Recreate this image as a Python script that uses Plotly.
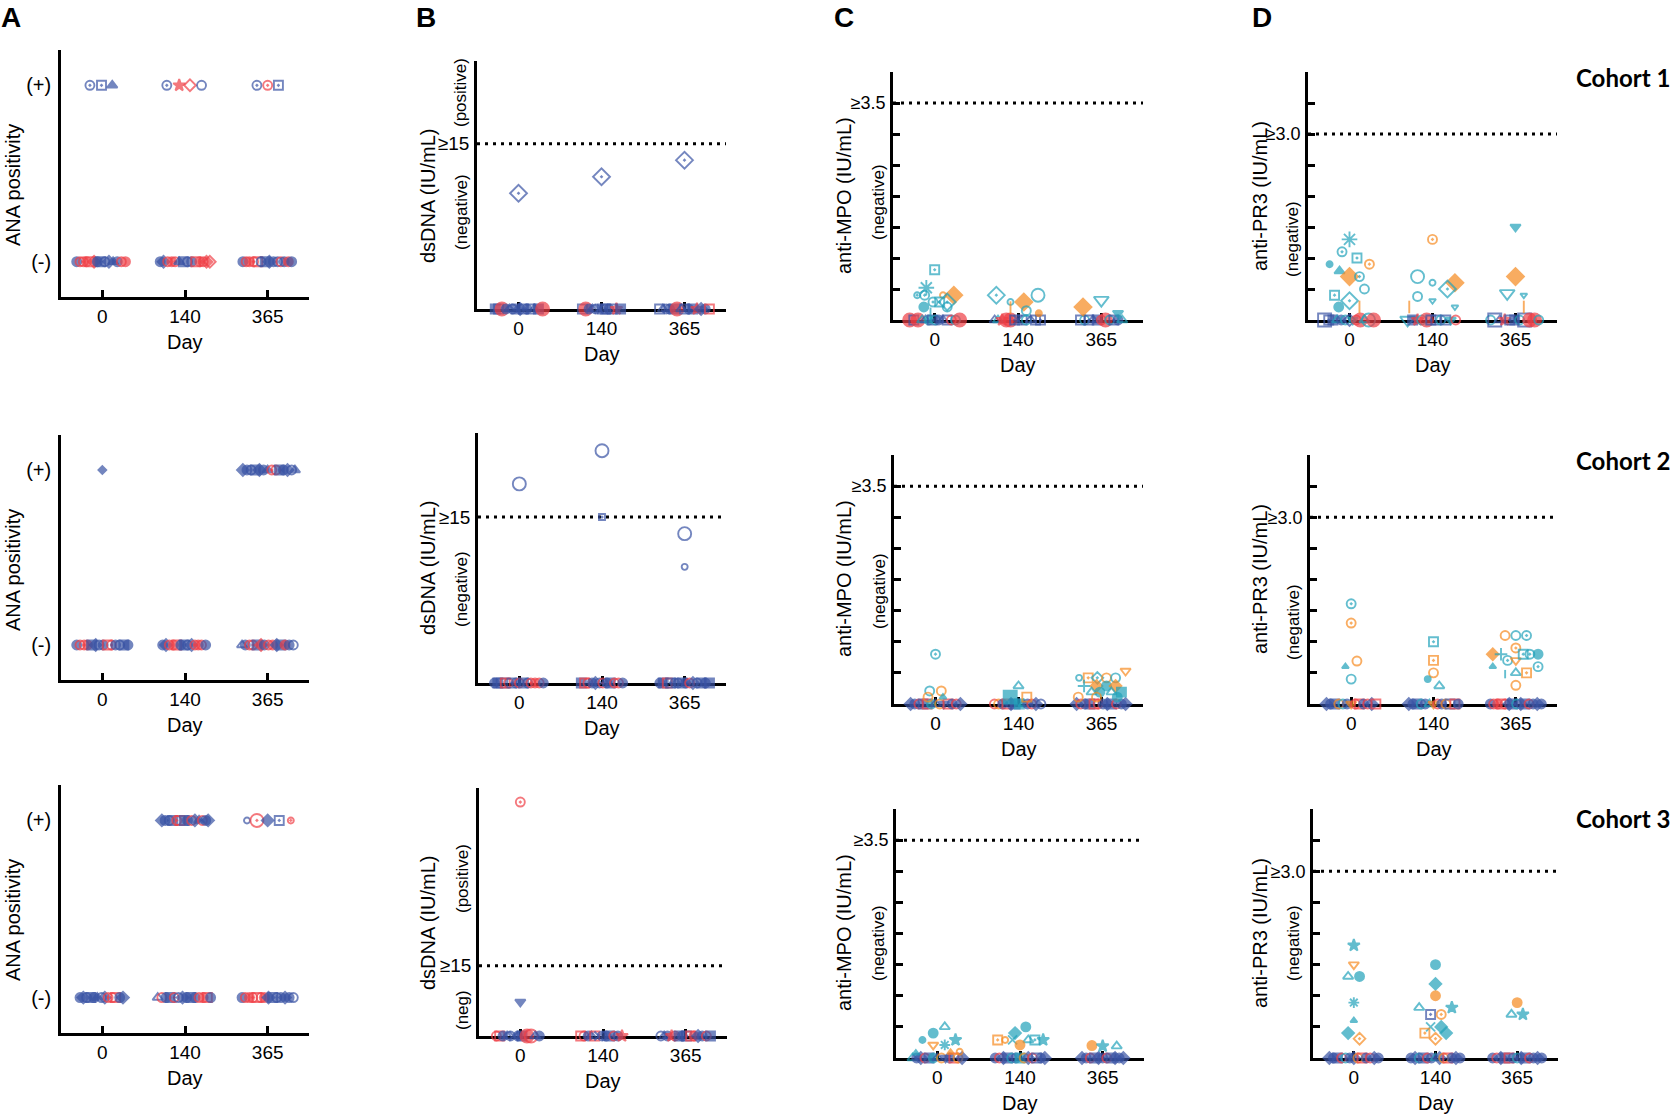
import plotly.graph_objects as go

DAYS = ["0", "140", "365"]

BLUE = "#3953a4"
RED = "#ef3f46"
TEAL = "#22a2ba"
ORANGE = "#f68a1f"
COLORS = {"b": BLUE, "r": RED, "t": TEAL, "o": ORANGE}

SYMBOLS = {
    "o": "circle", "O": "circle-open", "s": "square", "S": "square-open",
    "d": "diamond", "D": "diamond-open", "^": "triangle-up", "A": "triangle-up-open",
    "v": "triangle-down", "V": "triangle-down-open", "*": "star", "a": "asterisk-open",
    "x": "x-thin-open", "+": "cross-thin-open", "h": "circle-open-dot",
    "q": "square-open-dot", "k": "diamond-open-dot", "c": "circle-open-dot",
    "i": "line-ns-open",
}

# marker code: colour letter + symbol letter (+ "L" large / "m" small)
# bands: (day index, value, jitter list, marker codes)
# points: (day index, jitter, value, marker code)

# ---- A: ANA positivity, 0 = (-), 1 = (+)
A1_BANDS = [
    (0, 0, [-0.31, -0.27, -0.23, -0.19, -0.15, -0.1, -0.06, -0.02, 0.03, 0.08, 0.13, 0.18, 0.23, 0.28],
     "bo rO rh ro rS rd bo bs bO bd b^ bo rO ro"),
    (1, 0, [-0.3, -0.26, -0.21, -0.16, -0.12, -0.07, -0.02, 0.03, 0.08, 0.13, 0.18, 0.22, 0.26, 0.3],
     "bo bd rO ro rh b^ bs bO bo rS ro rO rd rD"),
    (2, 0, [-0.3, -0.26, -0.22, -0.17, -0.12, -0.08, -0.03, 0.02, 0.07, 0.12, 0.16, 0.2, 0.25, 0.29],
     "bo rO ro rh rS bO bs bd bo bO rO bo ro bo"),
]
A1_POINTS = [
    (0, -0.15, 1, "bh"), (0, -0.01, 1, "bq"), (0, 0.12, 1, "b^"),
    (1, -0.22, 1, "bh"), (1, -0.07, 1, "r*"), (1, 0.06, 1, "rD"), (1, 0.2, 1, "bO"),
    (2, -0.13, 1, "bh"), (2, 0.0, 1, "rh"), (2, 0.13, 1, "bq"),
]

A2_BANDS = [
    (2, 1, [-0.3, -0.25, -0.2, -0.15, -0.1, -0.05, 0.0, 0.05, 0.1, 0.14, 0.19, 0.24, 0.29, 0.33],
     "bd bo bO bs bd bo b^ rh rO bs bo bd bO b^"),
    (0, 0, [-0.31, -0.27, -0.22, -0.18, -0.13, -0.08, -0.04, 0.01, 0.06, 0.11, 0.16, 0.21, 0.26, 0.31],
     "bo rO rh ro bs bd bO bo rS rh bo bO bs bo"),
    (1, 0, [-0.27, -0.23, -0.19, -0.14, -0.1, -0.05, -0.01, 0.03, 0.08, 0.12, 0.16, 0.2, 0.25],
     "bo bd rO ro rS bo bs bO bd rh ro rO bo"),
    (2, 0, [-0.31, -0.27, -0.22, -0.18, -0.13, -0.08, -0.04, 0.01, 0.06, 0.11, 0.16, 0.21, 0.26, 0.31],
     "bA bo rO rh bs rd bo rO ro bd bs ro bo bO"),
]
A2_POINTS = [(0, 0.0, 1, "bdm")]

A3_BANDS = [
    (1, 1, [-0.28, -0.24, -0.19, -0.15, -0.1, -0.06, -0.01, 0.03, 0.08, 0.12, 0.17, 0.21, 0.25, 0.28],
     "bd bo bO bs rh rS bs bo rO bd b^ rO bo bd"),
    (0, 0, [-0.27, -0.23, -0.19, -0.14, -0.1, -0.06, -0.01, 0.03, 0.07, 0.12, 0.16, 0.21, 0.25],
     "bo bd bO bs bo b^ bO bd rh rO rS bo bd"),
    (1, 0, [-0.33, -0.28, -0.23, -0.18, -0.13, -0.08, -0.03, 0.02, 0.07, 0.12, 0.17, 0.22, 0.27, 0.31],
     "bA rO bo bs rh bO bd bo bs bo rO ro rS bo"),
    (2, 0, [-0.31, -0.27, -0.22, -0.18, -0.13, -0.08, -0.04, 0.01, 0.06, 0.11, 0.16, 0.21, 0.26, 0.31],
     "bo rO ro rh rS rO ro bd bs bO bo bd bo bO"),
]
A3_POINTS = [(2, -0.25, 1, "bOm"), (2, -0.13, 1, "rcL"), (2, 0.0, 1, "bd"), (2, 0.14, 1, "bq"), (2, 0.28, 1, "rhm")]

# ---- B: dsDNA (IU/mL)
B1_BANDS = [
    (0, 0, [-0.28, -0.24, -0.2, -0.15, -0.11, -0.07, -0.03, 0.02, 0.06, 0.1, 0.15, 0.19, 0.24, 0.29],
     "bs bS roL bo bA bO bs bd bq bo bS b^ bs roL"),
    (1, 0, [-0.23, -0.19, -0.15, -0.11, -0.07, -0.03, 0.01, 0.05, 0.09, 0.13, 0.18, 0.23],
     "bS roL bo bA bO bx bs bq bo bS r* bs"),
    (2, 0, [-0.3, -0.26, -0.22, -0.18, -0.13, -0.09, -0.04, 0.0, 0.05, 0.1, 0.15, 0.2, 0.25, 0.3],
     "bS bA bO bo bs roL bA bq bo bs r* bd bo rS"),
]
B1_POINTS = [(0, 0.0, 10.5, "bkL"), (1, 0.0, 12, "bkL"), (2, 0.0, 13.5, "bkL")]

B2_BANDS = [
    (0, 0, [-0.3, -0.26, -0.22, -0.17, -0.13, -0.09, -0.04, 0.0, 0.05, 0.1, 0.14, 0.19, 0.24, 0.29],
     "bo bs bS rS rO bq bo rO bs bO rh ro rO bo"),
    (1, 0, [-0.25, -0.21, -0.17, -0.12, -0.08, -0.03, 0.01, 0.06, 0.1, 0.15, 0.2, 0.25],
     "bs rS rO bo bd bO rh bo bs rO rO bo"),
    (2, 0, [-0.3, -0.26, -0.21, -0.17, -0.12, -0.08, -0.03, 0.01, 0.06, 0.1, 0.15, 0.2, 0.25, 0.3],
     "bo bs rS bq bo bO bs bo rh bd bO bs bo bs"),
]
B2_POINTS = [(0, 0.0, 18, "bOL"), (1, 0.0, 21, "bOL"), (1, 0.0, 15, "bqm"), (2, 0.0, 13.5, "bOL"), (2, 0.0, 10.5, "bOm")]

B3_BANDS = [
    (0, 0, [-0.29, -0.25, -0.21, -0.16, -0.12, -0.08, -0.03, 0.02, 0.08, 0.13, 0.18, 0.23],
     "rO rS bo bA bO bx bo bs roL rOL bA bo"),
    (1, 0, [-0.27, -0.23, -0.18, -0.14, -0.1, -0.05, -0.01, 0.04, 0.08, 0.13, 0.18, 0.23],
     "rS rO bo bA rS bx bO bo bs rh bo r*"),
    (2, 0, [-0.3, -0.26, -0.22, -0.17, -0.13, -0.08, -0.04, 0.01, 0.06, 0.1, 0.15, 0.2, 0.25, 0.3],
     "bO bA bo r* rO bs bo bq rS ro bd bo rO bs"),
]
B3_POINTS = [(0, 0.0, 50, "rh"), (0, 0.0, 7.3, "bv")]
B_TOPS = [22.5, 22.6, 53]

# ---- C: anti-MPO (IU/mL)
C1_BANDS = [
    (0, 0, [-0.3, -0.25, -0.2, -0.15, -0.11, -0.07, -0.03, 0.01, 0.05, 0.1, 0.15, 0.2, 0.25, 0.3],
     "roL bS roL tA bA to bq tO bo bA bS rO tO roL"),
    (1, 0, [-0.28, -0.24, -0.19, -0.14, -0.09, -0.04, 0.0, 0.05, 0.1, 0.15, 0.21, 0.27],
     "bA tA r* roL roL bq bx bS tO bA bS bq"),
    (2, 0, [-0.25, -0.2, -0.15, -0.1, -0.05, 0.0, 0.05, 0.1, 0.15, 0.2, 0.25],
     "bS tO bq bA bs rO roL tO bq bo tA"),
]
C1_POINTS = [
    (0, 0.0, 0.81, "tq"), (0, -0.1, 0.52, "taL"), (0, -0.21, 0.40, "thm"), (0, -0.12, 0.40, "th"),
    (0, 0.1, 0.40, "oOm"), (0, 0.23, 0.40, "odL"), (0, -0.02, 0.29, "th"), (0, 0.06, 0.29, "tq"),
    (0, 0.15, 0.29, "tkL"), (0, -0.13, 0.21, "to"), (0, 0.15, 0.21, "tO"), (0, -0.05, 0.10, "ti"),
    (1, -0.26, 0.40, "tkL"), (1, -0.09, 0.29, "tOm"), (1, -0.09, 0.20, "oi"), (1, 0.07, 0.29, "odL"),
    (1, 0.24, 0.40, "tOL"), (1, 0.1, 0.15, "tO"), (1, 0.25, 0.11, "oom"),
    (2, -0.22, 0.21, "odL"), (2, 0.0, 0.32, "tVL"), (2, 0.2, 0.11, "tv"),
]

C2_BANDS = [
    (0, 0, [-0.3, -0.25, -0.2, -0.15, -0.1, -0.05, 0.0, 0.05, 0.1, 0.15, 0.2, 0.25, 0.3],
     "bd bo rO bs rS to bA oO bv rS bo rO bd"),
    (1, 0, [-0.29, -0.24, -0.19, -0.14, -0.09, -0.04, 0.01, 0.06, 0.11, 0.16, 0.21, 0.27],
     "rO oO bo rS bd bs ts tA bo rO bd bO"),
    (2, 0, [-0.3, -0.25, -0.2, -0.14, -0.09, -0.04, 0.02, 0.07, 0.12, 0.18, 0.24, 0.29],
     "bd rO bo bs rS rO bo bd bs rO bo bd"),
]
C2_POINTS = [
    (0, 0.0, 0.80, "tc"), (0, -0.07, 0.21, "tO"), (0, 0.07, 0.21, "oO"), (0, -0.09, 0.11, "oO"),
    (0, 0.09, 0.11, "t^m"),
    (1, 0.0, 0.29, "tA"), (1, -0.1, 0.11, "tsL"), (1, 0.1, 0.11, "oS"),
    (2, -0.27, 0.42, "tOm"), (2, -0.16, 0.42, "oq"), (2, -0.05, 0.42, "tk"), (2, 0.06, 0.42, "oO"),
    (2, 0.17, 0.42, "tO"), (2, 0.29, 0.53, "oV"), (2, -0.21, 0.29, "t+"), (2, -0.06, 0.29, "od"),
    (2, 0.06, 0.29, "to"), (2, 0.17, 0.29, "od"), (2, -0.12, 0.19, "tA"), (2, -0.02, 0.19, "to"),
    (2, 0.12, 0.19, "tA"), (2, 0.24, 0.19, "ts"), (2, -0.28, 0.11, "oO"), (2, -0.06, 0.11, "oO"),
    (2, 0.19, 0.11, "to"),
]

C3_BANDS = [
    (0, 0, [-0.3, -0.25, -0.2, -0.15, -0.1, -0.05, 0.0, 0.05, 0.1, 0.15, 0.2, 0.25, 0.3],
     "tA bo bd rO bs to bA oO bv bo rS oO bd"),
    (1, 0, [-0.3, -0.25, -0.2, -0.15, -0.1, -0.05, 0.0, 0.05, 0.1, 0.15, 0.2, 0.25, 0.3],
     "bo rO bd bs tO bo ts oO bd rO bS bo bd"),
    (2, 0, [-0.25, -0.2, -0.15, -0.1, -0.05, 0.0, 0.05, 0.1, 0.15, 0.2, 0.25],
     "bd bo rO bs bd bo rO bs bd bo bd"),
]
C3_POINTS = [
    (0, 0.09, 0.50, "tA"), (0, -0.05, 0.40, "to"), (0, -0.18, 0.29, "tom"), (0, 0.22, 0.29, "t*"),
    (0, -0.05, 0.21, "oV"), (0, 0.09, 0.21, "ta"), (0, 0.27, 0.10, "oOm"), (0, -0.26, 0.08, "t^m"),
    (0, 0.16, 0.09, "o^m"),
    (1, 0.07, 0.50, "to"), (1, -0.06, 0.40, "td"), (1, -0.27, 0.29, "oq"), (1, -0.18, 0.29, "oOm"),
    (1, -0.09, 0.29, "tx"), (1, 0.1, 0.29, "tA"), (1, 0.18, 0.29, "tq"), (1, 0.28, 0.29, "t*"),
    (1, 0.0, 0.21, "oo"),
    (2, -0.13, 0.20, "oo"), (2, 0.0, 0.19, "t*"), (2, 0.17, 0.19, "tA"),
]

# ---- D: anti-PR3 (IU/mL)
D1_BANDS = [
    (0, 0, [-0.3, -0.25, -0.2, -0.15, -0.1, -0.05, 0.0, 0.04, 0.08, 0.13, 0.18, 0.23, 0.29],
     "bSL bq bs tA bo tO bk tv rO roL tA tOL roL"),
    (1, 0, [-0.3, -0.24, -0.18, -0.13, -0.07, -0.02, 0.04, 0.1, 0.16, 0.22, 0.28],
     "tVL bs r* tO roL bq bS tO bq tv rO"),
    (2, 0, [-0.3, -0.25, -0.19, -0.13, -0.07, -0.01, 0.05, 0.11, 0.17, 0.23, 0.28],
     "tO bSL bA r* bq bs tO bSL roL roL tO"),
]
D1_POINTS = [
    (0, 0.0, 1.30, "taL"), (0, -0.09, 1.10, "th"), (0, 0.09, 1.00, "tq"), (0, -0.24, 0.90, "tom"),
    (0, 0.24, 0.90, "oh"), (0, -0.12, 0.79, "t^"), (0, 0.0, 0.70, "odL"), (0, 0.12, 0.70, "th"),
    (0, 0.18, 0.50, "tO"), (0, -0.18, 0.40, "tq"), (0, 0.0, 0.31, "tkL"), (0, -0.13, 0.21, "to"),
    (0, 0.12, 0.21, "oi"),
    (1, 0.0, 1.30, "oh"), (1, -0.18, 0.70, "tOL"), (1, 0.0, 0.60, "tOm"), (1, 0.27, 0.60, "odL"),
    (1, 0.18, 0.50, "tkL"), (1, -0.18, 0.38, "tO"), (1, 0.0, 0.31, "tVm"), (1, 0.27, 0.21, "tVm"),
    (1, -0.28, 0.21, "oi"),
    (2, 0.0, 1.50, "tv"), (2, 0.0, 0.70, "odL"), (2, -0.1, 0.43, "tVL"), (2, 0.1, 0.40, "tVm"),
    (2, 0.1, 0.21, "oi"),
]

D2_BANDS = [
    (0, 0, [-0.3, -0.25, -0.2, -0.15, -0.1, -0.05, 0.0, 0.05, 0.1, 0.15, 0.2, 0.25, 0.3],
     "bd bo bs oO tO bo ov rO rS bo rO bd rS"),
    (1, 0, [-0.3, -0.25, -0.2, -0.15, -0.1, -0.05, 0.0, 0.05, 0.1, 0.15, 0.2, 0.26, 0.3],
     "bd bo bs tO bo tA ov rO bo oO bS rS bo"),
    (2, 0, [-0.31, -0.27, -0.22, -0.18, -0.13, -0.08, -0.04, 0.01, 0.06, 0.11, 0.16, 0.21, 0.26, 0.31],
     "bo rO ro rS rO bd bs tO bd bs rO bo bd bo"),
]
D2_POINTS = [
    (0, 0.0, 1.61, "tc"), (0, 0.0, 1.30, "oc"), (0, 0.07, 0.69, "oO"), (0, -0.07, 0.60, "t^m"),
    (0, 0.0, 0.40, "tO"),
    (1, 0.0, 1.00, "tq"), (1, 0.0, 0.70, "oq"), (1, 0.0, 0.50, "oO"), (1, -0.07, 0.40, "tom"),
    (1, 0.07, 0.29, "tA"),
    (2, -0.13, 1.10, "oO"), (2, 0.0, 1.10, "tO"), (2, 0.13, 1.10, "tc"), (2, 0.0, 0.90, "oc"),
    (2, -0.28, 0.80, "od"), (2, -0.18, 0.80, "t+"), (2, -0.1, 0.70, "tc"), (2, 0.0, 0.70, "oV"),
    (2, 0.09, 0.80, "tq"), (2, 0.17, 0.80, "tc"), (2, 0.27, 0.80, "to"), (2, -0.28, 0.60, "t^m"),
    (2, 0.27, 0.60, "tc"), (2, -0.13, 0.48, "tim"), (2, 0.0, 0.50, "tA"), (2, 0.13, 0.50, "oq"),
    (2, 0.0, 0.30, "oO"),
]

D3_BANDS = [
    (0, 0, [-0.3, -0.25, -0.2, -0.15, -0.1, -0.05, 0.0, 0.05, 0.1, 0.15, 0.2, 0.25, 0.3],
     "bd bo bs rO tO bo bd oO rS bo rO bd bo"),
    (1, 0, [-0.3, -0.25, -0.2, -0.15, -0.1, -0.05, 0.0, 0.05, 0.1, 0.15, 0.2, 0.25, 0.3],
     "bo bd tO bs rO bo tA bd oO rS bo bd bo"),
    (2, 0, [-0.3, -0.25, -0.2, -0.15, -0.1, -0.05, 0.0, 0.05, 0.1, 0.15, 0.2, 0.25, 0.3],
     "bo rO bd bs rS bo tO bd bs rO bo bd bo"),
]
D3_POINTS = [
    (0, 0.0, 1.81, "t*"), (0, 0.0, 1.50, "oV"), (0, -0.07, 1.31, "tA"), (0, 0.07, 1.31, "to"),
    (0, 0.0, 0.89, "ta"), (0, 0.0, 0.60, "t^m"), (0, -0.07, 0.40, "td"), (0, 0.07, 0.31, "ok"),
    (1, 0.0, 1.50, "to"), (1, 0.0, 1.19, "td"), (1, 0.0, 1.00, "oo"), (1, -0.2, 0.81, "tA"),
    (1, 0.2, 0.81, "t*"), (1, -0.06, 0.70, "bq"), (1, 0.07, 0.70, "oh"), (1, -0.06, 0.50, "tx"),
    (1, 0.07, 0.50, "td"), (1, -0.13, 0.40, "oq"), (1, 0.13, 0.40, "td"), (1, 0.0, 0.31, "ok"),
    (2, 0.0, 0.89, "oo"), (2, -0.07, 0.70, "tA"), (2, 0.07, 0.70, "t*"),
]

# ---------------------------------------------------------------- layout
W, H = 1675, 1115
FONT = "Liberation Sans, Arial, sans-serif"

# panel box in pixels: left, right, top, bottom
GEOM = {
    "A1": (61, 309, 50, 297), "B1": (477, 726, 61, 309), "C1": (893, 1143, 72, 320), "D1": (1308, 1557, 72, 320),
    "A2": (61, 309, 435, 680), "B2": (478, 726, 433, 683), "C2": (894, 1143, 455, 704), "D2": (1310, 1557, 455, 704),
    "A3": (61, 309, 785, 1033), "B3": (479, 727, 788, 1036), "C3": (896, 1144, 809, 1058), "D3": (1313, 1558, 809, 1058),
}

PANELS = [
    ("A1", A1_BANDS, A1_POINTS), ("B1", B1_BANDS, B1_POINTS), ("C1", C1_BANDS, C1_POINTS), ("D1", D1_BANDS, D1_POINTS),
    ("A2", A2_BANDS, A2_POINTS), ("B2", B2_BANDS, B2_POINTS), ("C2", C2_BANDS, C2_POINTS), ("D2", D2_BANDS, D2_POINTS),
    ("A3", A3_BANDS, A3_POINTS), ("B3", B3_BANDS, B3_POINTS), ("C3", C3_BANDS, C3_POINTS), ("D3", D3_BANDS, D3_POINTS),
]

Y_TITLES = {"A": "ANA positivity", "B": "dsDNA (IU/mL)", "C": "anti-MPO (IU/mL)", "D": "anti-PR3 (IU/mL)"}
Y_TITLE_X = {"A": 13, "B": 428, "C": 844, "D": 1260}
SIDE_NOTES = [
    ("(positive)", 461, 93), ("(negative)", 461, 212), ("(negative)", 461, 589),
    ("(positive)", 462, 878), ("(neg)", 462, 1010),
    ("(negative)", 878, 202), ("(negative)", 879, 591), ("(negative)", 878, 943),
    ("(negative)", 1293, 239), ("(negative)", 1293, 622), ("(negative)", 1293, 943),
]
LETTERS = [("A", 11, 17), ("B", 426, 17), ("C", 844, 17), ("D", 1262, 17)]
COHORTS = [("Cohort 1", 77), ("Cohort 2", 461), ("Cohort 3", 818)]


def marker_style(code):
    color = COLORS[code[0]]
    symbol = SYMBOLS[code[1]]
    size = 9
    if code.endswith("L"):
        size = 13
    elif code.endswith("m"):
        size = 6
    return color, symbol, size


def note(text, x, y, size, angle=0, xanchor="center", family=FONT):
    return dict(
        text=text, x=x / W, y=1 - y / H, xref="paper", yref="paper", showarrow=False,
        textangle=angle, xanchor=xanchor, yanchor="middle",
        font=dict(size=size, family=family, color="black"),
    )


fig = go.Figure()
annotations = []
shapes = []

for k, (name, bands, points) in enumerate(PANELS, start=1):
    col, row = name[0], int(name[1])
    xs, ys, colors, symbols, sizes = [], [], [], [], []
    entries = []
    for day, value, jitters, codes in bands:
        for jit, code in zip(jitters, codes.split()):
            entries.append((day + jit, value, code))
    for day, jit, value, code in points:
        entries.append((day + jit, value, code))
    for x, y, code in entries:
        c, s, z = marker_style(code)
        xs.append(x)
        ys.append(y)
        colors.append(c)
        symbols.append(s)
        sizes.append(z)

    sfx = "" if k == 1 else str(k)
    fig.add_trace(go.Scatter(
        x=xs, y=ys, mode="markers", xaxis=f"x{sfx}", yaxis=f"y{sfx}",
        cliponaxis=False, hoverinfo="skip", showlegend=False,
        marker=dict(color=colors, symbol=symbols, size=sizes, line=dict(color=colors, width=1.9)),
    ))

    left, right, top, bottom = GEOM[name]
    axis_common = dict(
        showline=True, linecolor="black", linewidth=2.6, showgrid=False, zeroline=False,
        layer="below traces", tickfont=dict(size=19, family=FONT, color="black"),
    )
    fig.layout[f"xaxis{sfx}"] = dict(
        axis_common, domain=[left / W, right / W], anchor=f"y{sfx}", range=[-0.5, 2.5],
        tickmode="array", tickvals=[0, 1, 2], ticktext=DAYS,
        ticks="inside", ticklen=7, tickwidth=2.6, tickcolor="black",
    )

    yax = dict(axis_common, domain=[1 - bottom / H, 1 - top / H], anchor=f"x{sfx}", tickmode="array")
    threshold = None
    if col == "A":
        yax.update(range=[-0.2, 1.2], tickvals=[0, 1], ticktext=["(-)", "(+)"], ticks="",
                   tickfont=dict(size=20, family=FONT, color="black"), ticklabelstandoff=3)
    elif col == "B":
        threshold = 15
        yax.update(range=[0, B_TOPS[row - 1]], tickvals=[15], ticktext=["≥15"], ticks="",
                   tickfont=dict(size=19, family=FONT, color="black"), ticklabelstandoff=1)
    else:
        threshold = 3.5 if col == "C" else 3.0
        vals = [i * 0.5 for i in range(9)]
        text = [f"≥{v:.1f}" if abs(v - threshold) < 1e-9 else "" for v in vals]
        yax.update(range=[0, 4.0], tickvals=vals, ticktext=text, ticks="inside", ticklen=7,
                   tickwidth=2.6, tickcolor="black",
                   tickfont=dict(size=18, family=FONT, color="black"), ticklabelstandoff=1)
    fig.layout[f"yaxis{sfx}"] = yax

    if threshold is not None:
        shapes.append(dict(
            type="line", xref=f"x{sfx} domain", yref=f"y{sfx}", x0=0, x1=1, y0=threshold, y1=threshold,
            line=dict(color="black", width=3, dash="3px,5px"), layer="below",
        ))

    mid_x = (left + right) / 2
    annotations.append(note("Day", mid_x, bottom + 45, 20))
    title_y = top + (135 if col in "AB" else 124)
    annotations.append(note(Y_TITLES[col], Y_TITLE_X[col], title_y, 20, angle=-90))

for text, x, y in SIDE_NOTES:
    annotations.append(note(text, x, y, 17, angle=-90))
for text, x, y in LETTERS:
    annotations.append(note(f"<b>{text}</b>", x, y, 28))
for text, y in COHORTS:
    annotations.append(note(f"<b>{text}</b>", 1672, y, 24, xanchor="right", family="Lato, Open Sans, sans-serif"))

fig.update_layout(
    width=W, height=H, margin=dict(l=0, r=0, t=0, b=0),
    paper_bgcolor="white", plot_bgcolor="white", showlegend=False,
    font=dict(family=FONT, color="black"),
    annotations=annotations, shapes=shapes,
)

# the page body keeps its default 8px margin otherwise, which pushes the figure off the window
fig.write_html(
    "out.html",
    config={"displayModeBar": False},
    post_script="document.body.style.margin = '0';",
)
